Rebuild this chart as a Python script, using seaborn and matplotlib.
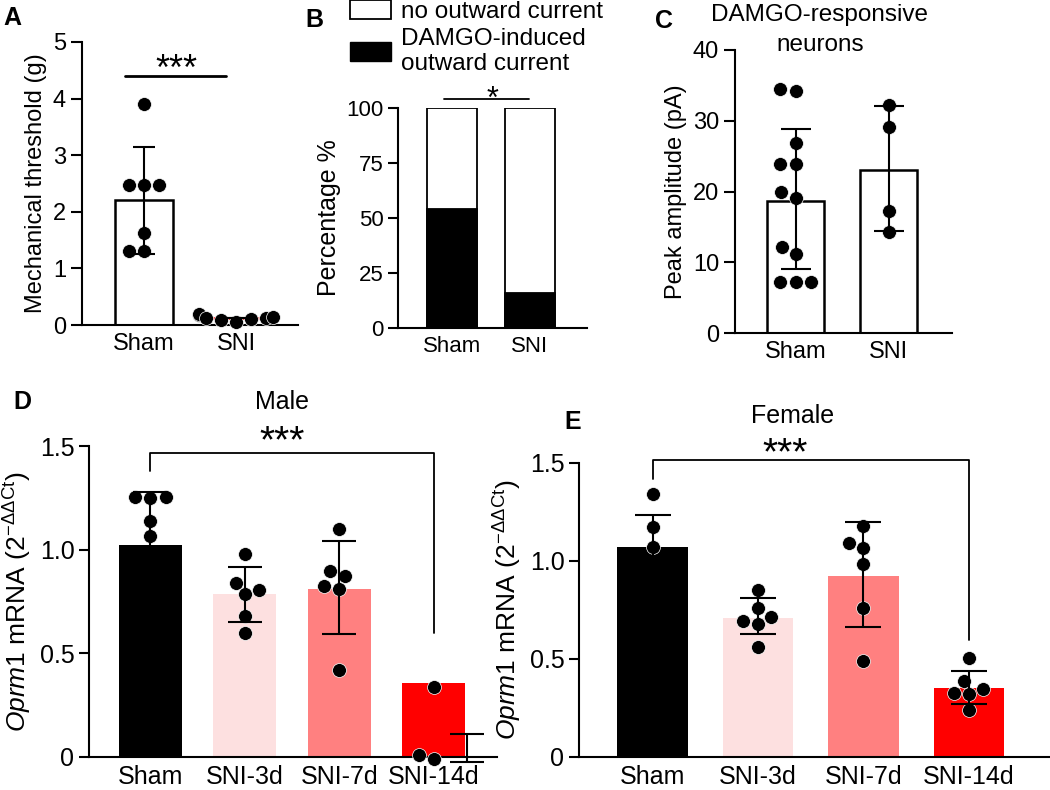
import numpy as np
import pandas as pd
import seaborn as sns
import matplotlib.pyplot as plt
from matplotlib.patches import Patch

# ---- panel A: mechanical threshold
a_groups = ["Sham", "SNI"]
a_sham = [3.9, 2.47, 2.47, 2.47, 1.62, 1.3, 1.3]
a_sni = [0.18, 0.12, 0.10, 0.15, 0.20, 0.05, 0.12, 0.08]
a_mean = [2.2, 0.12]
a_sd = [0.94, 0.0]

# ---- panel B: % responsive neurons
b_groups = ["Sham", "SNI"]
b_total = [100, 100]
b_response = [54, 16]

# ---- panel C: peak amplitude
c_groups = ["Sham", "SNI"]
c_sham = [34.2, 34.5, 26.8, 23.9, 23.9, 19.9, 19.1, 12.1, 11.2, 7.2, 7.2, 7.2]
c_sni = [32.2, 29.1, 17.3, 14.3]
c_mean = [18.6, 23.0]
c_err_mid = [18.9, 23.3]
c_sd = [9.9, 8.85]

# ---- panels D/E: Oprm1 mRNA
de_groups = ["Sham", "SNI-3d", "SNI-7d", "SNI-14d"]
de_colors = ["#000000", "#fde0e0", "#ff8080", "#ff0000"]

d_points = {
    "Sham": [1.255, 1.255, 1.25, 1.138, 1.067],
    "SNI-3d": [0.977, 0.840, 0.784, 0.805, 0.679, 0.596],
    "SNI-7d": [1.098, 0.874, 0.897, 0.826, 0.808, 0.418],
    "SNI-14d": [0.338, 0.011, -0.011],
}
d_mean = [1.022, 0.784, 0.808, 0.357]
d_err_mid = [1.022, 0.783, 0.816, 0.045]
d_sd = [0.254, 0.131, 0.225, 0.068]

e_points = {
    "Sham": [1.341, 1.171, 1.069],
    "SNI-3d": [0.852, 0.716, 0.677, 0.758, 0.694, 0.562],
    "SNI-7d": [1.181, 1.091, 1.065, 0.985, 0.758, 0.489],
    "SNI-14d": [0.506, 0.349, 0.319, 0.389, 0.329, 0.239],
}
e_mean = [1.069, 0.711, 0.924, 0.353]
e_err_mid = [1.069, 0.718, 0.931, 0.353]
e_sd = [0.167, 0.092, 0.266, 0.085]

sns.set_style("ticks")
plt.rcParams["font.family"] = ["Liberation Sans", "DejaVu Sans"]
plt.rcParams["mathtext.fontset"] = "custom"
plt.rcParams["mathtext.rm"] = "Liberation Sans"
plt.rcParams["mathtext.it"] = "Liberation Sans:italic"
plt.rcParams["axes.linewidth"] = 1.5
for k in ["text.color", "axes.labelcolor", "xtick.color", "ytick.color", "axes.edgecolor"]:
    plt.rcParams[k] = "black"

fig = plt.figure(figsize=(10.5, 7.9), dpi=100)
W, H = 1050, 790


def add_ax(left, right, top, bottom):
    return fig.add_axes([left / W, 1 - bottom / H, (right - left) / W, (bottom - top) / H])


def style(ax, fs, tlen):
    sns.despine(ax=ax)
    ax.tick_params(axis="both", labelsize=fs, width=1.5, length=tlen, colors="black")
    ax.tick_params(axis="x", length=0, pad=6)
    ax.set_xlabel("")


def long_df(groups, values):
    rows = [(g, v) for g, vals in zip(groups, values) for v in vals]
    return pd.DataFrame(rows, columns=["group", "value"])


dot_kw = dict(color="black", size=10, edgecolor="white", linewidth=0.5, zorder=4, clip_on=False)
err_kw = dict(fmt="none", ecolor="black", elinewidth=1.5, capthick=1.5, zorder=5, clip_on=False)

# ================= A
axA = add_ax(82, 298, 42, 325)
sns.barplot(x=a_groups, y=a_mean, ax=axA, width=0.63, color="white", saturation=1,
            edgecolor="black", linewidth=1.8)
axA.patches[1].set_edgecolor("red")
dfA = long_df(a_groups, [a_sham, a_sni])
sns.swarmplot(data=dfA, x="group", y="value", ax=axA, order=a_groups, **dot_kw)
axA.errorbar(np.arange(2), a_mean, yerr=a_sd, capsize=8, **err_kw)
axA.set_xlim(-0.67, 1.67)
axA.set_ylim(0, 5)
axA.set_yticks([0, 1, 2, 3, 4, 5])
axA.set_ylabel("Mechanical threshold (g)", fontsize=17)
style(axA, 17, 8)
axA.plot([-0.2, 0.89], [4.4, 4.4], color="black", lw=2, clip_on=False)
axA.text(0.35, 4.5, "***", ha="center", va="center", fontsize=26)

# ================= B
axB = add_ax(398, 587, 108, 328)
sns.barplot(x=b_groups, y=b_total, ax=axB, width=0.645, color="white", saturation=1,
            edgecolor="black", linewidth=1.3)
sns.barplot(x=b_groups, y=b_response, ax=axB, width=0.645, color="black", saturation=1,
            edgecolor="black", linewidth=1.3)
axB.set_xlim(-0.7, 1.74)
axB.set_ylim(0, 100)
axB.set_yticks([0, 25, 50, 75, 100])
axB.set_ylabel("Percentage %", fontsize=18)
style(axB, 16, 7)
axB.plot([-0.1, 0.99], [104, 104], color="black", lw=1.3, clip_on=False)
axB.text(0.52, 110.5, "*", ha="center", va="top", fontsize=22)
fig.legend(handles=[Patch(facecolor="white", edgecolor="black", linewidth=1.3),
                    Patch(facecolor="black", edgecolor="black")],
           labels=["no outward current", "DAMGO-induced\noutward current"],
           loc="upper left", bbox_to_anchor=(350 / W, 1.0), frameon=False,
           fontsize=17.5, handlelength=1.7, handleheight=0.8, handletextpad=0.4,
           labelspacing=0.2, borderaxespad=0, borderpad=0.0)

# ================= C
axC = add_ax(735, 952, 50, 333)
sns.barplot(x=c_groups, y=c_mean, ax=axC, width=0.61, color="white", saturation=1,
            edgecolor="black", linewidth=1.8)
dfC = long_df(c_groups, [c_sham, c_sni])
sns.swarmplot(data=dfC, x="group", y="value", ax=axC, order=c_groups, **dot_kw)
axC.errorbar(np.arange(2), c_err_mid, yerr=c_sd, capsize=11, **err_kw)
axC.set_xlim(-0.65, 1.68)
axC.set_ylim(0, 40)
axC.set_yticks([0, 10, 20, 30, 40])
axC.set_ylabel("Peak amplitude (pA)", fontsize=17)
style(axC, 17, 8)
axC.text(0.26, 44.9, "DAMGO-responsive", ha="center", va="center", fontsize=17.5)
axC.text(0.26, 40.7, "neurons", ha="center", va="center", fontsize=17.5)

# ================= D / E
ylab = r"$\mathit{Oprm1}$ mRNA (2$^{\mathregular{-\Delta\Delta Ct}}$)"


def mrna_panel(ax, points, means, err_mid, sds, err_shift, title, title_xy, star_xy,
               bracket, xlim, width, cap):
    sns.barplot(x=de_groups, y=means, ax=ax, width=width, palette=de_colors, saturation=1,
                hue=de_groups, legend=False, linewidth=0)
    df = long_df(de_groups, [points[g] for g in de_groups])
    sns.swarmplot(data=df, x="group", y="value", ax=ax, order=de_groups, **dot_kw)
    xs = np.arange(len(de_groups), dtype=float)
    ax.errorbar(xs + np.array(err_shift), err_mid, yerr=sds, capsize=cap, **err_kw)
    ax.set_xlim(*xlim)
    ax.set_ylim(0, 1.5)
    ax.set_yticks([0, 0.5, 1.0, 1.5])
    ax.set_yticklabels(["0", "0.5", "1.0", "1.5"])
    ax.set_ylabel(ylab, fontsize=19)
    style(ax, 18, 7)
    ax.plot([0, 0, 3, 3], bracket, color="black", lw=1.3, clip_on=False)
    ax.text(*star_xy, "***", ha="center", va="center", fontsize=28)
    ax.text(*title_xy, title, ha="center", va="center", fontsize=18)


# the male SNI-14d error bar sits off-centre in the original figure
axD = add_ax(89, 497, 446, 757)
mrna_panel(axD, d_points, d_mean, d_err_mid, d_sd, [0, 0, 0, 0.35], "Male",
           (1.39, 1.71), (1.4, 1.52), [1.379, 1.468, 1.468, 0.599], (-0.65, 3.67), 0.67, 12)

axE = add_ax(579, 1050, 463, 757)
mrna_panel(axE, e_points, e_mean, e_err_mid, e_sd, [0, 0, 0, 0], "Female",
           (1.33, 1.74), (1.26, 1.545), [1.42, 1.517, 1.517, 0.597], (-0.70, 3.77), 0.67, 13)

# panel letters
for letter, (x, y) in {"A": (3, 6), "B": (305, 8), "C": (655, 9),
                       "D": (13, 390), "E": (564, 410)}.items():
    fig.text(x / W, 1 - y / H, letter, fontsize=18, fontweight="bold", va="top", ha="left")

fig.savefig("out.png", dpi=100)
